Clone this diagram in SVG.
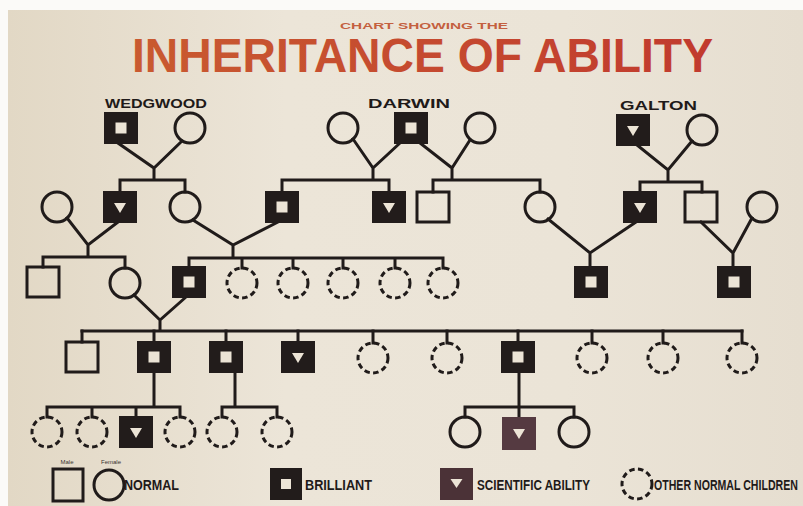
<svg xmlns="http://www.w3.org/2000/svg" width="803" height="506" viewBox="0 0 803 506">
  <style>
    .ln { stroke: #201b1a; stroke-width: 3; fill: none; stroke-linecap: square; }
    .lbl { font-family: "Liberation Sans", Arial, sans-serif; font-weight: bold; fill: #1f1a19; }
    .key { font-family: "Liberation Sans", Arial, sans-serif; font-weight: bold; fill: #1f1a19; font-size: 14px; }
    .tiny { font-family: "Liberation Sans", Arial, sans-serif; font-size: 6px; fill: #3a3230; }
  </style>
  <defs>
    <linearGradient id="paper" x1="0" y1="0" x2="1" y2="0">
      <stop offset="0" stop-color="#e2d8c5"/>
      <stop offset="0.35" stop-color="#ece5d8"/>
      <stop offset="0.7" stop-color="#ebe4d7"/>
      <stop offset="1" stop-color="#e6ded0"/>
    </linearGradient>
    <linearGradient id="ink" x1="0" y1="0" x2="1" y2="0">
      <stop offset="0" stop-color="#c95a30"/>
      <stop offset="1" stop-color="#c13a2e"/>
    </linearGradient>
    <!-- pedigree symbols, centred on (0,0) -->
    <g id="male">
      <rect x="-16" y="-15" width="32" height="30" fill="none" stroke="#201b1a" stroke-width="3"/>
    </g>
    <g id="brilliant">
      <rect x="-16" y="-15" width="32" height="30" fill="#221c1b" stroke="#221c1b" stroke-width="2"/>
      <rect x="-5.5" y="-5.5" width="11" height="11" fill="#ece4d6"/>
    </g>
    <g id="scientific">
      <rect x="-16" y="-15" width="32" height="30" fill="#221c1b" stroke="#221c1b" stroke-width="2"/>
      <polygon points="-6,-4 6,-4 0,6" fill="#ece4d6"/>
    </g>
    <g id="scientific-mauve">
      <rect x="-16" y="-15" width="32" height="31" fill="#553a41" stroke="#553a41" stroke-width="2"/>
      <polygon points="-6,-4 6,-4 0,6" fill="#ece4d6"/>
    </g>
    <g id="female">
      <circle r="15" fill="none" stroke="#201b1a" stroke-width="3"/>
    </g>
    <g id="other">
      <circle r="15" fill="none" stroke="#201b1a" stroke-width="3" stroke-dasharray="5.5 3.4"/>
    </g>
  </defs>

  <!-- sheet -->
  <rect width="803" height="506" fill="#fbfaf8"/>
  <rect x="8" y="10" width="795" height="496" fill="url(#paper)"/>

  <!-- heading -->
  <text x="340" y="28.5" textLength="168" lengthAdjust="spacingAndGlyphs" font-family="Liberation Sans, Arial, sans-serif" font-weight="bold" font-size="9" fill="#c4603f">CHART SHOWING THE</text>
  <text x="132" y="72" textLength="581" lengthAdjust="spacingAndGlyphs" font-family="Liberation Sans, Arial, sans-serif" font-weight="bold" font-size="47.5" fill="url(#ink)">INHERITANCE OF ABILITY</text>

  <!-- family names -->
  <text class="lbl" x="105" y="108" font-size="13" textLength="102" lengthAdjust="spacingAndGlyphs">WEDGWOOD</text>
  <text class="lbl" x="368" y="108" font-size="13" textLength="82" lengthAdjust="spacingAndGlyphs">DARWIN</text>
  <text class="lbl" x="620" y="110" font-size="13" textLength="77" lengthAdjust="spacingAndGlyphs">GALTON</text>

  <!-- descent lines -->
  <g id="connectors" class="ln">
    <!-- Wedgwood couple -->
    <path d="M118,143 L154,168 L182,141 M154,168 V180 M120,180 H185 M120,180 V192 M185,180 V192"/>
    <!-- Darwin, first couple -->
    <path d="M353,139 L373,168 L400,143 M373,168 V180 M282,180 H389 M282,180 V192 M389,180 V192"/>
    <!-- Darwin, second couple -->
    <path d="M420,143 L452,168 L470,140 M452,168 V180 M433,180 H540 M433,180 V192 M540,180 V192"/>
    <!-- Galton couple -->
    <path d="M637,145 L668,170 L692,141 M668,170 V182 M640,182 H702 M640,182 V192 M702,182 V192"/>
    <!-- second generation unions -->
    <path d="M67,218 L88,245 L118,222 M88,245 V257 M43,257 H125 M43,257 V267 M125,257 V268"/>
    <path d="M193,220 L233,245 L278,222 M233,245 V258 M189,258 H443 M189,258 V267 M242,258 V268 M293,258 V268 M343,258 V268 M395,258 V268 M443,258 V268"/>
    <path d="M548,219 L590,253 L636,222 M590,253 V267"/>
    <path d="M701,222 L733,253 L752,218 M733,253 V267"/>
    <!-- third generation union -->
    <path d="M134,295 L160,320 L186,297 M160,320 V331 M82,331 H742"/>
    <path d="M82,331 V342 M154,331 V342 M226,331 V342 M298,331 V342 M373,331 V343 M447,331 V343 M518,331 V342 M592,331 V343 M663,331 V343 M742,331 V343"/>
    <!-- fourth generation -->
    <path d="M154,372 V407 M47,407 H180 M47,407 V417 M92,407 V417 M136,407 V417 M180,407 V417"/>
    <path d="M235,372 V407 M222,407 H277 M222,407 V417 M277,407 V417"/>
    <path d="M519,372 V407 M465,407 H574 M465,407 V417 M519,407 V417 M574,407 V417"/>
  </g>

  <!-- first generation -->
  <g id="wedgwood"><use href="#brilliant" x="121" y="128"/></g>
  <g id="wedgwood-wife"><use href="#female" x="190" y="128"/></g>
  <g id="darwin-wife-1"><use href="#female" x="343" y="128"/></g>
  <g id="darwin"><use href="#brilliant" x="411" y="128"/></g>
  <g id="darwin-wife-2"><use href="#female" x="480" y="128"/></g>
  <g id="galton"><use href="#scientific" x="633" y="130"/></g>
  <g id="galton-wife"><use href="#female" x="702" y="130"/></g>

  <!-- second generation -->
  <g id="g2-1"><use href="#female" x="57" y="207"/></g>
  <g id="g2-2"><use href="#scientific" x="120" y="207"/></g>
  <g id="g2-3"><use href="#female" x="185" y="207"/></g>
  <g id="g2-4"><use href="#brilliant" x="282" y="207"/></g>
  <g id="g2-5"><use href="#scientific" x="389" y="207"/></g>
  <g id="g2-6"><use href="#male" x="433" y="207"/></g>
  <g id="g2-7"><use href="#female" x="540" y="207"/></g>
  <g id="g2-8"><use href="#scientific" x="640" y="207"/></g>
  <g id="g2-9"><use href="#male" x="701" y="207"/></g>
  <g id="g2-10"><use href="#female" x="762" y="207"/></g>

  <!-- third generation -->
  <g id="g3-1"><use href="#male" x="43" y="282"/></g>
  <g id="g3-2"><use href="#female" x="125" y="283"/></g>
  <g id="g3-3"><use href="#brilliant" x="189" y="282"/></g>
  <g id="g3-4"><use href="#other" x="242" y="283"/></g>
  <g id="g3-5"><use href="#other" x="293" y="283"/></g>
  <g id="g3-6"><use href="#other" x="343" y="283"/></g>
  <g id="g3-7"><use href="#other" x="395" y="283"/></g>
  <g id="g3-8"><use href="#other" x="443" y="283"/></g>
  <g id="g3-9"><use href="#brilliant" x="591" y="282"/></g>
  <g id="g3-10"><use href="#brilliant" x="734" y="282"/></g>

  <!-- fourth generation -->
  <g id="g4-1"><use href="#male" x="82" y="357"/></g>
  <g id="g4-2"><use href="#brilliant" x="154" y="357"/></g>
  <g id="g4-3"><use href="#brilliant" x="226" y="357"/></g>
  <g id="g4-4"><use href="#scientific" x="298" y="357"/></g>
  <g id="g4-5"><use href="#other" x="373" y="358"/></g>
  <g id="g4-6"><use href="#other" x="447" y="358"/></g>
  <g id="g4-7"><use href="#brilliant" x="518" y="357"/></g>
  <g id="g4-8"><use href="#other" x="592" y="358"/></g>
  <g id="g4-9"><use href="#other" x="663" y="358"/></g>
  <g id="g4-10"><use href="#other" x="742" y="358"/></g>

  <!-- fifth generation -->
  <g id="g5-1"><use href="#other" x="47" y="432"/></g>
  <g id="g5-2"><use href="#other" x="92" y="432"/></g>
  <g id="g5-3"><use href="#scientific" x="136" y="432"/></g>
  <g id="g5-4"><use href="#other" x="180" y="432"/></g>
  <g id="g5-5"><use href="#other" x="222" y="432"/></g>
  <g id="g5-6"><use href="#other" x="277" y="432"/></g>
  <g id="g5-7"><use href="#female" x="465" y="432"/></g>
  <g id="g5-8"><use href="#scientific-mauve" x="519" y="433"/></g>
  <g id="g5-9"><use href="#female" x="574" y="432"/></g>

  <!-- key -->
  <g id="legend">
    <text class="tiny" x="67" y="464" text-anchor="middle">Male</text>
    <text class="tiny" x="111" y="464" text-anchor="middle">Female</text>
    <rect x="53" y="469" width="30" height="32" fill="none" stroke="#201b1a" stroke-width="3"/>
    <circle cx="109" cy="485" r="15" fill="none" stroke="#201b1a" stroke-width="3"/>
    <text class="key" x="124" y="490" textLength="55" lengthAdjust="spacingAndGlyphs">NORMAL</text>

    <rect x="270" y="468" width="32" height="32" fill="#221c1b"/>
    <rect x="281" y="479" width="10" height="10" fill="#ece4d6"/>
    <text class="key" x="305" y="490" textLength="67" lengthAdjust="spacingAndGlyphs">BRILLIANT</text>

    <rect x="440" y="468" width="33" height="32" fill="#4b3237"/>
    <polygon points="450.5,479 462.5,479 456.5,488" fill="#ece4d6"/>
    <text class="key" x="477" y="490" textLength="113" lengthAdjust="spacingAndGlyphs">SCIENTIFIC ABILITY</text>

    <circle cx="637" cy="484" r="15" fill="none" stroke="#201b1a" stroke-width="3" stroke-dasharray="5.5 3.4"/>
    <!-- narrow caption: small size stretched vertically so it fits the sheet -->
    <text class="key" transform="translate(654,490) scale(1,1.3)" font-size="10.6" style="font-size:10.6px">OTHER NORMAL CHILDREN</text>
  </g>
</svg>
